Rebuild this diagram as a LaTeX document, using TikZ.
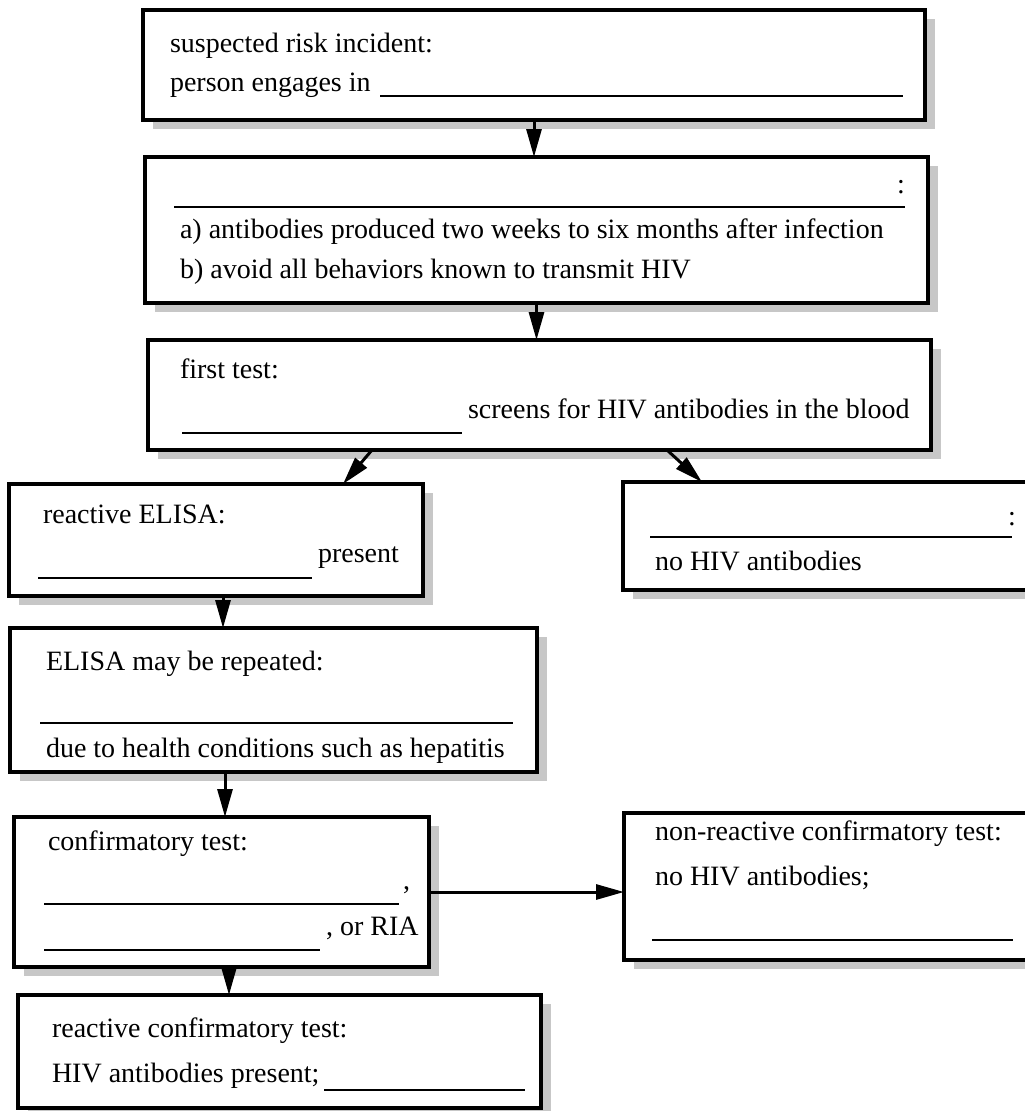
\documentclass[tikz,border=0pt]{standalone}
\usepackage{fontspec}
\setmainfont{Liberation Serif}
\usetikzlibrary{arrows.meta,shadows}
\begin{document}
\begin{tikzpicture}[x=1pt,y=-1pt,
  box/.style={draw=black, line width=3.2pt, fill=white, inner sep=0pt, outer sep=0pt,
    anchor=north west,
    drop shadow={shadow xshift=10pt, shadow yshift=-9pt, fill=black!22, opacity=1}},
  txt/.style={anchor=base west, inner sep=0pt, outer sep=0pt, font=\fontsize{28}{34}\selectfont},
  blank/.style={line width=2.4pt},
  arr/.style={line width=3pt, -{Triangle[length=28pt,width=15pt]}}]
\useasboundingbox (0,0) rectangle (1025,1111);
\clip (0,0) rectangle (1025,1111);

% boxes
\node[box, minimum width=782pt, minimum height=110pt] (b1) at (143,10) {};
\node[box, minimum width=783pt, minimum height=146pt] (b2) at (145,157) {};
\node[box, minimum width=783pt, minimum height=110pt] (b3) at (148,340) {};
\node[box, minimum width=414pt, minimum height=112pt] (b4) at (9,484) {};
\node[box, minimum width=430pt, minimum height=108pt] (b5) at (623,482) {};
\node[box, minimum width=527pt, minimum height=144pt] (b6) at (10,628) {};
\node[box, minimum width=415pt, minimum height=150pt] (b7) at (14,817) {};
\node[box, minimum width=430pt, minimum height=147pt] (b8) at (624,813) {};
\node[box, minimum width=523pt, minimum height=113pt] (b9) at (18,995) {};

% box 1
\node[txt] (t1a) at (170,52) {suspected risk incident:};
\node[txt] (t1b) at (170,91) {person engages in};
\draw[blank] (380,96) -- (903,96);

% box 2
\node[txt] (t2c) at (897,193) {:};
\draw[blank] (174,207) -- (905,207);
\node[txt] (t2a) at (180,238) {a) antibodies produced two weeks to six months after infection};
\node[txt] (t2b) at (180,278) {b) avoid all behaviors known to transmit HIV};

% box 3
\node[txt] (t3a) at (180,378) {first test:};
\draw[blank] (182,433) -- (462,433);
\node[txt] (t3b) at (468,418) {screens for HIV antibodies in the blood};

% box 4
\node[txt] (t4a) at (43,523) {reactive ELISA:};
\draw[blank] (38,578) -- (312,578);
\node[txt] (t4b) at (318,562) {present};

% box 5
\node[txt] (t5c) at (1008,525) {:};
\draw[blank] (650,537) -- (1012,537);
\node[txt] (t5a) at (655,570) {no HIV antibodies};

% box 6
\node[txt] (t6a) at (46,670) {ELISA may be repeated:};
\draw[blank] (40,723) -- (513,723);
\node[txt] (t6b) at (46,757) {due to health conditions such as hepatitis};

% box 7
\node[txt] (t7a) at (48,850) {confirmatory test:};
\draw[blank] (44,904) -- (399,904);
\node[txt] (t7b) at (403,889) {,};
\draw[blank] (44,950) -- (320,950);
\node[txt] (t7c) at (326,935) {, or RIA};

% box 8
\node[txt] (t8a) at (655,840) {non-reactive confirmatory test:};
\node[txt] (t8b) at (655,885) {no HIV antibodies;};
\draw[blank] (652,940) -- (1013,940);

% box 9
\node[txt] (t9a) at (52,1037) {reactive confirmatory test:};
\node[txt] (t9b) at (52,1082) {HIV antibodies present;};
\draw[blank] (324,1090) -- (525,1090);

% connectors
\draw[arr] (b1.south) -- (b1.south |- b2.north);
\draw[arr] (b2.south) -- (b2.south |- b3.north);
\draw[arr] ([xshift=224pt]b3.south west) -- ([xshift=334pt]b4.north west);
\draw[arr] ([xshift=519pt]b3.south west) -- ([xshift=79pt]b5.north west);
\draw[arr] ([xshift=214pt]b4.south west) -- ([xshift=214pt]b4.south west |- b6.north);
\draw[arr] ([xshift=215pt]b6.south west) -- ([xshift=215pt]b6.south west |- b7.north);
\draw[arr] (b7.east) -- (b7.east -| b8.west);
\draw[arr] ([xshift=215pt]b7.south west) -- ([xshift=215pt]b7.south west |- b9.north);
\end{tikzpicture}
\end{document}
